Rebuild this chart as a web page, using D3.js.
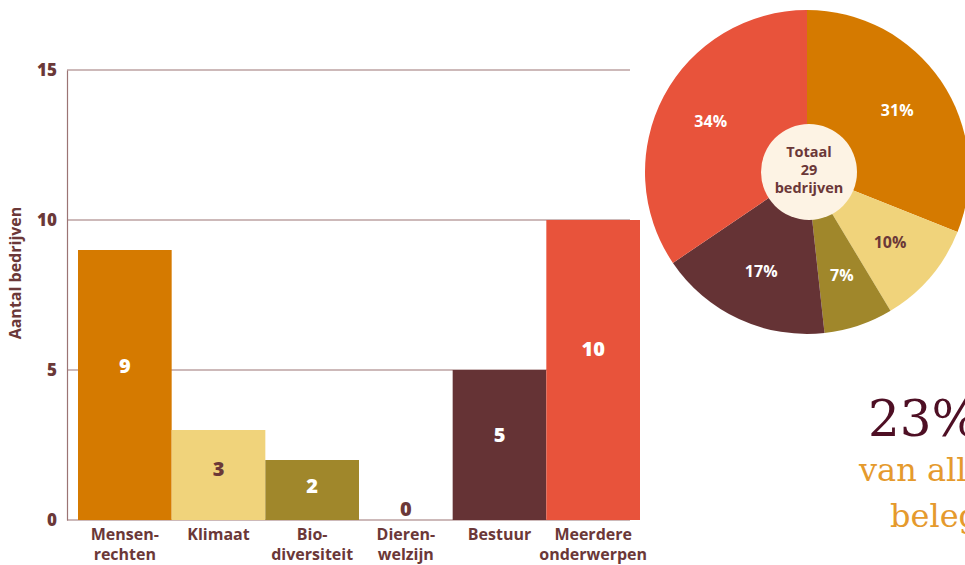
<!DOCTYPE html>
<html>
<head>
<meta charset="utf-8">
<script src="https://cdn.jsdelivr.net/npm/d3@7"></script>
<style>
  body { margin: 0; background: #fff; }
  svg { font-family: "Open Sans", "Noto Sans", sans-serif; }
</style>
</head>
<body>
<div id="chart"></div>
<script>
'use strict';

// chart data
var categories = ['Mensenrechten', 'Klimaat', 'Biodiversiteit', 'Dierenwelzijn', 'Bestuur', 'Meerdere onderwerpen'];
var labelLines = [['Mensen-', 'rechten'], ['Klimaat'], ['Bio-', 'diversiteit'], ['Dieren-', 'welzijn'], ['Bestuur'], ['Meerdere', 'onderwerpen']];
var counts = [9, 3, 2, 0, 5, 10];
var percentLabels = ['31%', '10%', '7%', '', '17%', '34%'];
var yTicks = [0, 5, 10, 15];
var colors = ['#d57a00', '#f0d37b', '#a0872b', '#ffffff', '#653335', '#e8533b'];
var darkText = '#6b3838';
var totalLines = ['Totaal', '29', 'bedrijven'];
var sideLines = ['23%', 'van alle', 'belegde'];

var width = 965, height = 565;

var svg = d3.select('#chart').append('svg')
  .attr('width', width)
  .attr('height', height);

// Bar chart
var x = d3.scaleBand()
  .domain(categories)
  .range([78, 640])
  .padding(0);

var y = d3.scaleLinear()
  .domain([0, 15])
  .range([520, 70]);

// grid lines
svg.selectAll('line.grid')
  .data(yTicks)
  .enter()
  .append('line')
  .attr('class', 'grid')
  .attr('x1', 67)
  .attr('x2', 630)
  .attr('y1', function(d) { return y(d); })
  .attr('y2', function(d) { return y(d); })
  .attr('stroke', '#9b7474')
  .attr('stroke-width', 1.2);

var yAxis = d3.axisLeft(y).tickValues(yTicks).tickSize(0).tickPadding(10);
var gy = svg.append('g')
  .attr('transform', 'translate(67,0)')
  .call(yAxis);
gy.select('.domain').attr('stroke', '#9b7474').attr('stroke-width', 1.2);
gy.selectAll('text')
  .attr('fill', darkText)
  .attr('font-family', '"Open Sans", sans-serif')
  .attr('font-size', 17)
  .attr('font-weight', 800);

svg.append('text')
  .attr('transform', 'translate(21,273) rotate(-90)')
  .attr('text-anchor', 'middle')
  .attr('fill', darkText)
  .attr('font-size', 16)
  .attr('font-weight', 700)
  .text('Aantal bedrijven');

svg.selectAll('rect.bar')
  .data(counts)
  .enter()
  .append('rect')
  .attr('class', 'bar')
  .attr('x', function(d, i) { return x(categories[i]); })
  .attr('y', function(d) { return y(d); })
  .attr('width', x.bandwidth())
  .attr('height', function(d) { return y(0) - y(d); })
  .attr('fill', function(d, i) { return colors[i]; });

svg.selectAll('text.value')
  .data(counts)
  .enter()
  .append('text')
  .attr('class', 'value')
  .attr('x', function(d, i) { return x(categories[i]) + x.bandwidth() / 2; })
  .attr('y', function(d) {
    if (d === 0) return y(0) - 4;
    return y(d) + (y(0) - y(d)) * 0.43 + 7;
  })
  .attr('text-anchor', 'middle')
  .attr('fill', function(d, i) { return (i === 1 || d === 0) ? darkText : '#fff'; })
  .attr('font-size', 20)
  .attr('font-weight', 800)
  .text(function(d) { return d; });

// category labels
var catLabels = svg.selectAll('text.cat')
  .data(labelLines)
  .enter()
  .append('text')
  .attr('class', 'cat')
  .attr('text-anchor', 'middle')
  .attr('fill', darkText)
  .attr('font-size', 16)
  .attr('font-weight', 700);

catLabels.selectAll('tspan')
  .data(function(d, i) { return d.map(function(t) { return { t: t, i: i }; }); })
  .enter()
  .append('tspan')
  .attr('x', function(d) { return x(categories[d.i]) + x.bandwidth() / 2; })
  .attr('y', function(d, j) { return 540 + j * 20; })
  .text(function(d) { return d.t; });

// Pie chart
var cx = 807, cy = 172, radius = 162;
var pie = d3.pie().sort(null).value(function(d) { return d; });
var arc = d3.arc().innerRadius(0).outerRadius(radius);
var labelArc = d3.arc().innerRadius(109).outerRadius(109);

var pg = svg.append('g').attr('transform', 'translate(' + cx + ',' + cy + ')');
var arcs = pie(counts);

pg.selectAll('path.slice')
  .data(arcs)
  .enter()
  .append('path')
  .attr('class', 'slice')
  .attr('d', arc)
  .attr('fill', function(d, i) { return colors[i]; });

pg.selectAll('text.pct')
  .data(arcs)
  .enter()
  .append('text')
  .attr('class', 'pct')
  .attr('transform', function(d) { return 'translate(' + labelArc.centroid(d) + ')'; })
  .attr('dy', '0.35em')
  .attr('text-anchor', 'middle')
  .attr('fill', function(d, i) { return i === 1 ? darkText : '#fff'; })
  .attr('font-size', 16)
  .attr('font-weight', 700)
  .text(function(d, i) { return percentLabels[i]; });

pg.append('circle')
  .attr('cx', 2)
  .attr('r', 48)
  .attr('fill', '#fdf3e4');

pg.append('text')
  .attr('text-anchor', 'middle')
  .attr('fill', darkText)
  .attr('font-size', 14.5)
  .attr('font-weight', 700)
  .selectAll('tspan')
  .data(totalLines)
  .enter()
  .append('tspan')
  .attr('x', 2)
  .attr('y', function(d, i) { return -15 + i * 18; })
  .text(function(d) { return d; });

// side text (cut off by the frame, as in the source)
svg.append('text')
  .attr('x', 868)
  .attr('y', 436)
  .attr('fill', '#4e0f24')
  .attr('font-family', '"DejaVu Serif", serif')
  .attr('font-size', 50)
  .attr('font-weight', 300)
  .text(sideLines[0]);

svg.selectAll('text.side')
  .data(sideLines.slice(1))
  .enter()
  .append('text')
  .attr('class', 'side')
  .attr('x', function(d, i) { return i === 0 ? 859 : 890; })
  .attr('y', function(d, i) { return 481 + i * 46; })
  .attr('fill', '#e59a2d')
  .attr('font-family', '"DejaVu Serif", serif')
  .attr('font-size', 32)
  .attr('font-weight', 300)
  .text(function(d) { return d; });
</script>
</body>
</html>
